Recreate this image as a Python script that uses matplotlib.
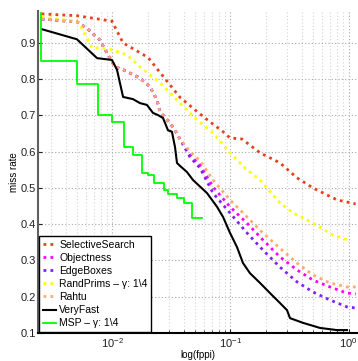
import numpy as np
import matplotlib
matplotlib.use("Agg")
import matplotlib.pyplot as plt
from matplotlib.ticker import LogLocator, FixedLocator, NullFormatter

plt.rcParams['font.family'] = ['Liberation Sans', 'DejaVu Sans']
plt.rcParams['mathtext.fontset'] = 'custom'
plt.rcParams['mathtext.rm'] = 'Liberation Sans'
plt.rcParams['mathtext.it'] = 'Liberation Sans:italic'

# ---------------- data (fppi, miss rate) ----------------
ss_x = [0.00251, 0.0050, 0.0099, 0.0123, 0.0200, 0.0373, 0.0481, 0.0608, 0.0865,
        0.099, 0.125, 0.178, 0.263, 0.366, 0.50, 0.80, 1.15]
ss_y = [0.980, 0.975, 0.960, 0.900, 0.860, 0.750, 0.720, 0.693, 0.655,
        0.638, 0.635, 0.597, 0.569, 0.528, 0.500, 0.467, 0.456]

common_x = [0.00251, 0.0050, 0.00608, 0.00783, 0.00916, 0.0105, 0.0123, 0.0171,
            0.0208, 0.0238, 0.0253, 0.0290, 0.0326, 0.0373]
common_y = [0.966, 0.958, 0.940, 0.908, 0.867, 0.834, 0.826, 0.803,
            0.779, 0.743, 0.710, 0.688, 0.668, 0.635]
tail_x = [0.0454, 0.0552, 0.0711, 0.0991, 0.138, 0.188, 0.262, 0.366, 0.500,
          0.697, 0.971, 1.15]
obj_tail = [0.591, 0.563, 0.503, 0.448, 0.403, 0.357, 0.310, 0.274, 0.246,
            0.227, 0.210, 0.208]
eb_tail = [0.585, 0.555, 0.486, 0.431, 0.376, 0.329, 0.282, 0.241, 0.213,
           0.191, 0.172, 0.169]
rahtu_tail = [0.600, 0.575, 0.522, 0.467, 0.420, 0.376, 0.334, 0.293, 0.260,
              0.238, 0.227, 0.227]

rp_x = [0.00251, 0.00359, 0.0050, 0.00531, 0.00608, 0.00670, 0.00953, 0.01327,
        0.0171, 0.0253, 0.0373, 0.0520, 0.0711, 0.0991, 0.138, 0.178, 0.262,
        0.339, 0.500, 0.739, 0.971]
rp_y = [0.972, 0.965, 0.958, 0.950, 0.913, 0.887, 0.883, 0.867,
        0.834, 0.790, 0.734, 0.688, 0.652, 0.597, 0.550, 0.522, 0.459,
        0.431, 0.403, 0.370, 0.357]

vf_x = [0.00251, 0.0050, 0.00740, 0.00990, 0.01092, 0.0123, 0.01492, 0.0171,
        0.01960, 0.02203, 0.02430, 0.02680, 0.02954, 0.03191, 0.03387, 0.03521,
        0.0373, 0.04276, 0.04808, 0.0632, 0.0769, 0.0865, 0.0991, 0.1135,
        0.1276, 0.1462, 0.178, 0.2163, 0.262, 0.3013, 0.3193, 0.4115, 0.5730,
        0.799, 0.971]
vf_y = [0.938, 0.910, 0.858, 0.853, 0.826, 0.751, 0.745, 0.734,
        0.729, 0.707, 0.701, 0.693, 0.659, 0.655, 0.613, 0.569,
        0.561, 0.544, 0.522, 0.486, 0.448, 0.420, 0.376, 0.337,
        0.293, 0.265, 0.238, 0.210, 0.183, 0.163, 0.141, 0.128, 0.114,
        0.108, 0.108]

msp_x = [0.002466, 0.002466, 0.00498, 0.00749, 0.00985, 0.01251, 0.01492, 0.01767,
         0.01986, 0.02248, 0.02748, 0.02971, 0.03521, 0.04038, 0.04691, 0.05701]
msp_y = [0.983, 0.851, 0.787, 0.701, 0.683, 0.612, 0.591, 0.542,
         0.536, 0.514, 0.494, 0.483, 0.472, 0.458, 0.416, 0.416]

labels = ['SelectiveSearch', 'Objectness', 'EdgeBoxes', 'RandPrims \u2013 \u03b3: 1\\4',
          'Rahtu', 'VeryFast', 'MSP \u2013 \u03b3: 1\\4']
yticks = [0.1, 0.2, 0.3, 0.4, 0.5, 0.6, 0.7, 0.8, 0.9]

# ---------------- figure ----------------
fig = plt.figure(figsize=(3.58, 3.61), dpi=100)
ax = fig.add_axes([38/358, 28/361, (357-38)/358, (333-11)/361])

dot = (0, (1, 1.5))
lw = 2.0
ax.plot(ss_x, ss_y, color='#e8401c', ls=dot, lw=lw, label=labels[0])
ax.plot(common_x + tail_x, common_y + obj_tail, color='#ff00ff', ls=dot, lw=lw, label=labels[1])
ax.plot(common_x + tail_x, common_y + eb_tail, color='#7f1fff', ls=dot, lw=lw, label=labels[2])
ax.plot(rp_x, rp_y, color='#ffff00', ls=dot, lw=lw, label=labels[3])
ax.plot(common_x + tail_x, common_y + rahtu_tail, color='#ffaa66', ls=dot, lw=lw, label=labels[4])
ax.plot(vf_x, vf_y, color='black', ls='-', lw=1.5, label=labels[5])
ax.plot(msp_x, msp_y, color='#00ff00', ls='-', lw=1.3, drawstyle='steps-post', label=labels[6])

ax.set_xscale('log')
ax.set_xlim(10**-2.631, 10**0.072)
ax.set_ylim(0.1, 0.988)
ax.yaxis.set_major_locator(FixedLocator(yticks))
ax.set_yticklabels([f'{v:.1f}' for v in yticks])
ax.xaxis.set_major_locator(LogLocator(base=10, numticks=10))
ax.xaxis.set_minor_locator(LogLocator(base=10, subs=np.arange(2, 10), numticks=20))
ax.xaxis.set_minor_formatter(NullFormatter())

ax.grid(True, which='major', axis='both', ls=(0, (1, 2)), color='#a8a8a8', lw=0.8)
ax.grid(True, which='minor', axis='x', ls=(0, (1, 2)), color='#d4d4d4', lw=0.8)
ax.set_axisbelow(True)

for s in ['top', 'right']:
    ax.spines[s].set_visible(False)
ax.spines['left'].set_color('#606060')
ax.spines['left'].set_linewidth(1.5)
ax.spines['bottom'].set_color('black')
ax.spines['bottom'].set_linewidth(1.5)
ax.tick_params(axis='both', which='both', direction='in', labelsize=8, colors='#202020')
ax.tick_params(axis='both', which='major', length=3)
ax.tick_params(axis='x', which='minor', length=2)
ax.tick_params(axis='x', pad=2)
ax.tick_params(axis='y', pad=1.5)

ax.set_xlabel('log(fppi)', fontsize=7, labelpad=0)
ax.set_ylabel('miss rate', fontsize=7, labelpad=1)

leg = ax.legend(loc='lower left', bbox_to_anchor=(0.0, 0.0), borderaxespad=0.1,
                fontsize=7.5, handlelength=1.3, handletextpad=0.3, labelspacing=0.3,
                borderpad=0.35, fancybox=False, framealpha=1, edgecolor='black')
leg.get_frame().set_linewidth(1.0)

fig.savefig('out.png', dpi=100)
